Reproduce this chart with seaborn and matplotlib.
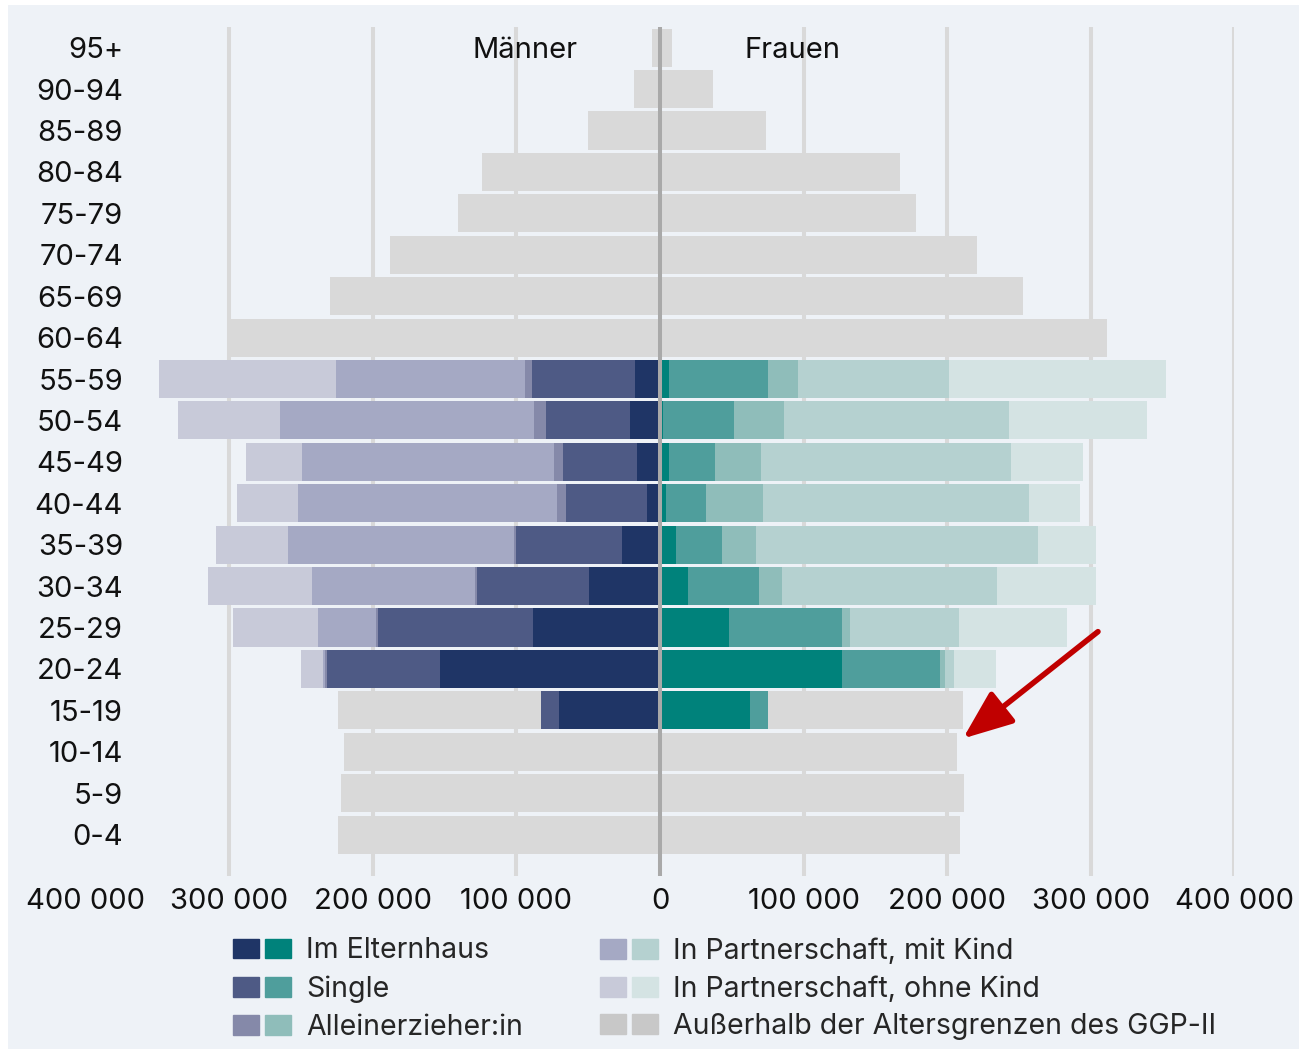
import matplotlib
matplotlib.use("Agg")
import matplotlib.pyplot as plt
import numpy as np
import pandas as pd
import seaborn as sns
from matplotlib.patches import Patch, Rectangle
from matplotlib.legend_handler import HandlerTuple

# age groups, top to bottom
ages = ["95+", "90-94", "85-89", "80-84", "75-79", "70-74", "65-69", "60-64",
        "55-59", "50-54", "45-49", "40-44", "35-39", "30-34", "25-29", "20-24",
        "15-19", "10-14", "5-9", "0-4"]

# values in thousands
men_eltern = [0, 0, 0, 0, 0, 0, 0, 0, 17.4, 20.6, 16.2, 9.3, 26.7, 49.2, 88.1, 153.0, 70.0, 0, 0, 0]
men_single = [0, 0, 0, 0, 0, 0, 0, 0, 71.6, 58.7, 51.3, 56.3, 73.7, 78.5, 108.3, 79.0, 13.0, 0, 0, 0]
men_allein = [0, 0, 0, 0, 0, 0, 0, 0, 5.3, 8.7, 6.0, 6.1, 1.6, 0.8, 1.6, 1.5, 0, 0, 0, 0]
men_mit = [0, 0, 0, 0, 0, 0, 0, 0, 131.0, 176.5, 175.8, 180.1, 156.8, 113.8, 39.9, 1.0, 0, 0, 0, 0]
men_ohne = [0, 0, 0, 0, 0, 0, 0, 0, 123.7, 71.0, 38.9, 42.5, 50.1, 72.6, 59.8, 15.6, 0, 0, 0, 0]
men_out = [5.6, 18.0, 50.0, 124.0, 141.0, 188.0, 230.0, 301.0, 0, 0, 0, 0, 0, 0, 0, 0, 141.0, 219.8, 222.0, 224.0]

women_eltern = [0, 0, 0, 0, 0, 0, 0, 0, 6.2, 2.0, 6.2, 4.3, 11.4, 19.3, 47.8, 126.6, 62.6, 0, 0, 0]
women_single = [0, 0, 0, 0, 0, 0, 0, 0, 69.1, 49.3, 32.0, 27.7, 32.0, 49.3, 78.8, 68.4, 12.8, 0, 0, 0]
women_allein = [0, 0, 0, 0, 0, 0, 0, 0, 21.1, 35.3, 31.9, 40.0, 23.4, 16.3, 6.0, 3.5, 0, 0, 0, 0]
women_mit = [0, 0, 0, 0, 0, 0, 0, 0, 104.6, 156.1, 174.2, 185.2, 196.6, 150.0, 75.4, 6.0, 0, 0, 0, 0]
women_ohne = [0, 0, 0, 0, 0, 0, 0, 0, 151.4, 96.5, 50.2, 35.5, 40.4, 68.9, 75.1, 29.5, 0, 0, 0, 0]
women_out = [8.3, 37.0, 74.0, 167.0, 178.0, 220.5, 252.5, 311.0, 0, 0, 0, 0, 0, 0, 0, 0, 135.9, 206.6, 211.5, 208.7]

categories = ["Im Elternhaus", "Single", "Alleinerzieher:in",
              "In Partnerschaft, mit Kind", "In Partnerschaft, ohne Kind",
              "Außerhalb der Altersgrenzen des GGP-II"]
men_colors = ["#1f3566", "#4e5a85", "#8589a9", "#a5a9c4", "#c8cad9", "#d9d9d9"]
women_colors = ["#00827b", "#4f9e9c", "#8fbdba", "#b5d1d0", "#d4e3e3", "#d9d9d9"]
legend_gray = "#c8c8c8"

men = [men_eltern, men_single, men_allein, men_mit, men_ohne, men_out]
women = [women_eltern, women_single, women_allein, women_mit, women_ohne, women_out]

sns.set_theme(style="white")
plt.rcParams["font.family"] = ["Inter", "DejaVu Sans"]

fig = plt.figure(figsize=(12.99, 10.49), dpi=100, facecolor="white")
fig.patches.append(Rectangle((8 / 1299, 0), 1, 1 - 5 / 1049, transform=fig.transFigure,
                             facecolor="#eef2f7", edgecolor="none", zorder=-10))
ax = fig.add_axes([85.6 / 1299, 1 - 876 / 1049, (1234.4 - 85.6) / 1299, (876 - 27) / 1049])
ax.set_facecolor("none")

# stacked bars: draw cumulative totals from the outermost segment inwards
for sign, data, colors in [(-1, men, men_colors), (1, women, women_colors)]:
    cum = np.cumsum(np.array(data) * 1000, axis=0)
    for i in range(len(data) - 1, -1, -1):
        df = pd.DataFrame({"age": ages, "value": sign * cum[i]})
        sns.barplot(data=df, x="value", y="age", order=ages, orient="h",
                    color=colors[i], saturation=1, width=0.92, errorbar=None,
                    linewidth=0, ax=ax, zorder=2)

for x in [-300000, -200000, -100000, 100000, 200000, 300000, 400000]:
    ax.axvline(x, color="#d9d9d9", lw=2.9, zorder=0)
ax.axvline(0, color="#a9a9a9", lw=2.9, zorder=5)

ax.set_xlim(-400000, 400000)
ax.set_ylim(20.0, -0.5)
ticks = np.arange(-400000, 400001, 100000)
ax.set_xticks(ticks)
ax.set_xticklabels([f"{abs(int(t)):,}".replace(",", " ") for t in ticks])
ax.set_xlabel("")
ax.set_ylabel("")
for s in ax.spines.values():
    s.set_visible(False)
ax.tick_params(axis="x", length=0, pad=8.5, labelsize=21, labelcolor="#111111")
ax.tick_params(axis="y", length=0, pad=-27, labelsize=21, labelcolor="#111111")

ax.text(-94000, 0, "Männer", ha="center", va="center_baseline", fontsize=21, color="#111111", zorder=6)
ax.text(92000, 0, "Frauen", ha="center", va="center_baseline", fontsize=21, color="#111111", zorder=6)

# red arrow pointing at the 10-14 / 15-19 women bars
ax.annotate("", xy=(211000, 16.68), xytext=(305000, 14.1),
            arrowprops=dict(arrowstyle="-|>,head_length=0.95,head_width=0.38",
                            color="#c00000", lw=4, mutation_scale=32,
                            shrinkA=0, shrinkB=0), zorder=7)

# legend: two columns of paired swatches
handles = [(Patch(color=m), Patch(color=w)) for m, w in zip(men_colors, women_colors)]
handles[-1] = (Patch(color=legend_gray), Patch(color=legend_gray))
leg_kw = dict(handler_map={tuple: HandlerTuple(ndivide=None, pad=0.22)},
              loc="center left", frameon=False, fontsize=20.5, handlelength=2.04,
              handleheight=0.7, handletextpad=0.52, labelspacing=0.38,
              borderpad=0, borderaxespad=0)
fig.legend(handles[:3], categories[:3], bbox_to_anchor=(233 / 1299, 1 - 989 / 1049), **leg_kw)
fig.legend(handles[3:], categories[3:], bbox_to_anchor=(600 / 1299, 1 - 989 / 1049), **leg_kw)

fig.savefig("out.png", dpi=100, facecolor=fig.get_facecolor())
